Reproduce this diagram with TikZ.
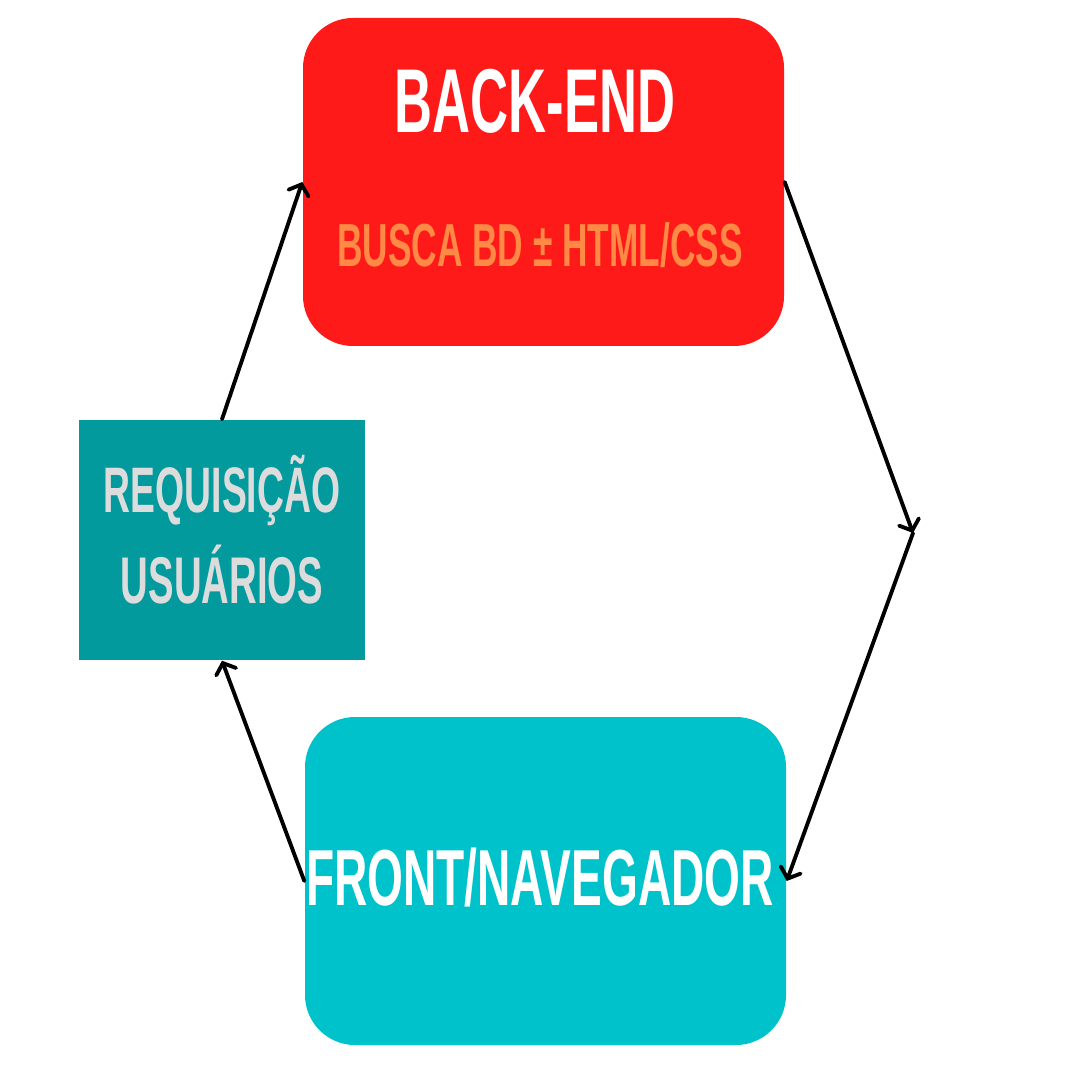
\documentclass[tikz,border=0pt]{standalone}
\usepackage{fontspec}
\setmainfont[FakeStretch=0.58]{Liberation Sans}
\usetikzlibrary{arrows.meta}
\definecolor{bered}{HTML}{FF1A1A}
\definecolor{beorange}{HTML}{FF8A45}
\definecolor{reqteal}{HTML}{039A9E}
\definecolor{frcyan}{HTML}{00C2CB}
\definecolor{reqtext}{HTML}{DCDCDC}
\tikzset{
  bigbox/.style={rounded corners=0.5cm, minimum width=4.81cm, minimum height=3.28cm, inner sep=0pt},
  txt/.style={anchor=base, inner sep=0pt, font=\bfseries},
  flow/.style={draw=black, line width=1.1pt, line cap=round, -{Straight Barb[length=2.6pt,width=6pt,line cap=round]}}
}
\begin{document}
\begin{tikzpicture}
\useasboundingbox[fill=white] (0,0) rectangle (10.8,-10.8);
\node[bigbox, fill=bered] (back) at (5.435,-1.82) {};
\node[minimum width=2.86cm, minimum height=2.40cm, inner sep=0pt, fill=reqteal] (req) at (2.22,-5.40) {};
\node[bigbox, fill=frcyan] (front) at (5.455,-8.81) {};
\coordinate (vert) at (9.13,-5.33);
\node[txt, text=white, font=\bfseries\fontsize{25.8}{30}\selectfont] (betitle) at (5.35,-1.33) {BACK-END};
\node[txt, text=beorange, font=\bfseries\fontsize{17.3}{20}\selectfont] (besub) at (5.40,-2.67) {BUSCA BD ± HTML/CSS};
\node[txt, text=reqtext, font=\bfseries\fontsize{18.3}{22}\selectfont] (req1) at (2.22,-5.12) {REQUISIÇÃO};
\node[txt, text=reqtext, font=\bfseries\fontsize{18.8}{22}\selectfont] (req2) at (2.22,-6.03) {USUÁRIOS};
\node[txt, text=white, font=\bfseries\fontsize{22.6}{27}\selectfont] (frtitle) at (5.40,-9.05) {FRONT/NAVEGADOR};
\draw[flow] (req.north) -- (back.west);
\draw[flow] (back.east) -- (vert);
\draw[flow] (vert) -- (front.east);
\draw[flow] (front.west) -- (req.south);
\end{tikzpicture}
\end{document}
